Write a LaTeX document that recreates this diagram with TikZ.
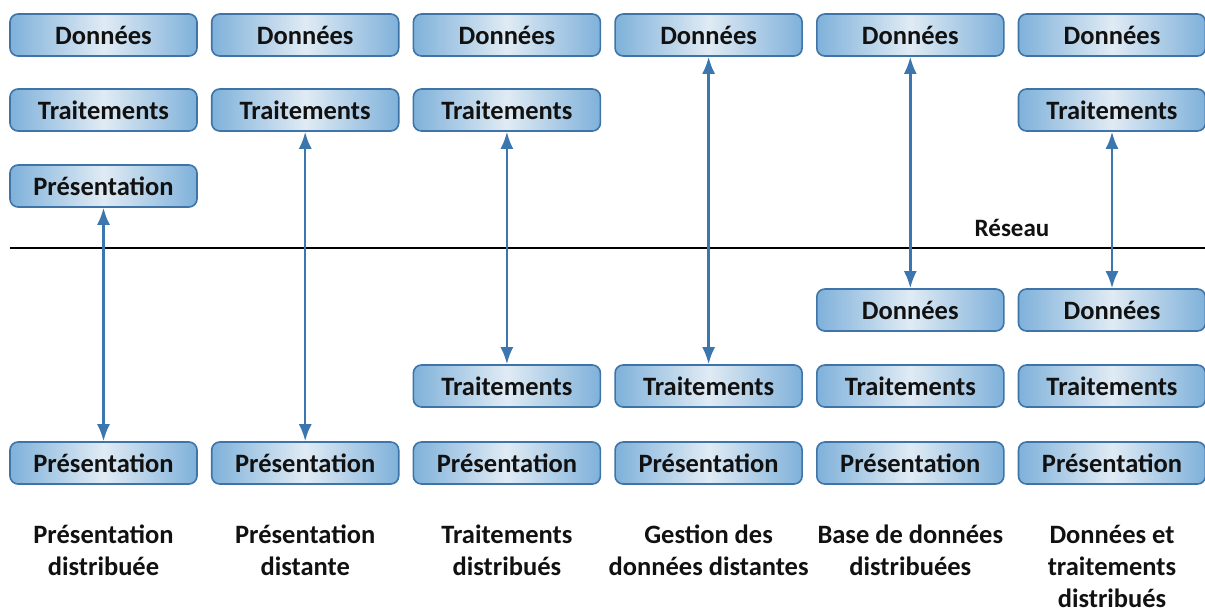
\documentclass[tikz,border=0pt]{standalone}
\usepackage{fontspec}
\setmainfont{Carlito}
\usetikzlibrary{arrows.meta}
\definecolor{boxedge}{HTML}{3E74A8}
\definecolor{boxside}{HTML}{7FB1DA}
\definecolor{boxmid}{HTML}{E0EBF4}
\definecolor{linkblue}{HTML}{3C76AE}
\definecolor{ink}{HTML}{111111}
\tikzset{
  layer/.style={draw=boxedge, line width=1.6pt, rounded corners=8pt,
    left color=boxside, right color=boxside, middle color=boxmid,
    minimum width=187pt, minimum height=42pt, inner sep=0pt,
    font=\bfseries\fontsize{26.5}{30}\selectfont, text=ink},
  caption/.style={align=center, text=ink, inner sep=0pt,
    font=\bfseries\fontsize{26.5}{32}\selectfont, anchor=north},
  link/.style={draw=linkblue, line width=2.4pt,
    {Latex[length=17pt,width=13pt]}-{Latex[length=17pt,width=13pt]}},
}
\begin{document}
\begin{tikzpicture}[x=1pt,y=-1pt]
\useasboundingbox (0,0) rectangle (1205,614);

% column centres
\def\ca{103.5}\def\cb{305.2}\def\cc{506.9}\def\cd{708.6}\def\ce{910.3}\def\cf{1112}

% network boundary
\coordinate (netL) at (10,248);
\coordinate (netR) at (1205,248);
\draw[line width=2.2pt, black] (netL) -- (netR);
\node[font=\bfseries\fontsize{25}{28}\selectfont, text=ink] (net) at (1012,228) {Réseau};

% column 1: distributed presentation
\node[layer] (d1) at (\ca,35) {Données};
\node[layer] (t1) at (\ca,110) {Traitements};
\node[layer] (p1) at (\ca,186) {Présentation};
\node[layer] (pp1) at (\ca,463) {Présentation};

% column 2: remote presentation
\node[layer] (d2) at (\cb,35) {Données};
\node[layer] (t2) at (\cb,110) {Traitements};
\node[layer] (pp2) at (\cb,463) {Présentation};

% column 3: distributed processing
\node[layer] (d3) at (\cc,35) {Données};
\node[layer] (t3) at (\cc,110) {Traitements};
\node[layer] (tt3) at (\cc,386) {Traitements};
\node[layer] (pp3) at (\cc,463) {Présentation};

% column 4: remote data management
\node[layer] (d4) at (\cd,35) {Données};
\node[layer] (tt4) at (\cd,386) {Traitements};
\node[layer] (pp4) at (\cd,463) {Présentation};

% column 5: distributed database
\node[layer] (d5) at (\ce,35) {Données};
\node[layer] (dd5) at (\ce,310) {Données};
\node[layer] (tt5) at (\ce,386) {Traitements};
\node[layer] (pp5) at (\ce,463) {Présentation};

% column 6: distributed data and processing
\node[layer] (d6) at (\cf,35) {Données};
\node[layer] (t6) at (\cf,110) {Traitements};
\node[layer] (dd6) at (\cf,310) {Données};
\node[layer] (tt6) at (\cf,386) {Traitements};
\node[layer] (pp6) at (\cf,463) {Présentation};

% links across the network
\draw[link] (p1.south) -- (pp1.north);
\draw[link] (t2.south) -- (pp2.north);
\draw[link] (t3.south) -- (tt3.north);
\draw[link] (d4.south) -- (tt4.north);
\draw[link] (d5.south) -- (dd5.north);
\draw[link] (t6.south) -- (dd6.north);

% column captions
\node[caption] (l1) at (\ca,525) {Présentation\\distribuée};
\node[caption] (l2) at (\cb,525) {Présentation\\distante};
\node[caption] (l3) at (\cc,525) {Traitements\\distribués};
\node[caption] (l4) at (\cd,525) {Gestion des\\données distantes};
\node[caption] (l5) at (\ce,525) {Base de données\\distribuées};
\node[caption] (l6) at (\cf,525) {Données et\\traitements\\distribués};
\end{tikzpicture}
\end{document}
